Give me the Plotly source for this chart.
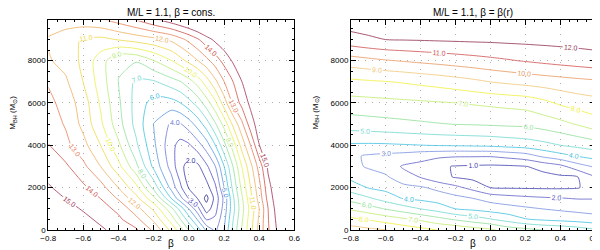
import plotly.graph_objects as go

beta_left = [-0.8, -0.7, -0.6, -0.5, -0.4, -0.3, -0.2, -0.1, -0.05, 0.0, 0.05,
             0.1, 0.15, 0.2, 0.25, 0.3, 0.35, 0.4, 0.45, 0.5, 0.6]
mass_left = [0, 500, 1000, 1500, 2000, 3000, 4000, 5000, 6000, 7000, 8000, 9000, 10000]
chi_left = [
    [16.6, 16.1, 15.63, 15.15, 14.65, 14.15, 12.8, 10.75, 9.5, 7.97, 6.5, 4.8, 3.8, 4.97, 7.2, 9.03, 10.67, 12.33, 13.86, 15.03, 17.0],
    [16.2, 15.73, 15.27, 14.78, 14.2, 13.29, 11.8, 9.54, 8.08, 6.5, 4.9, 2.9, 3.2, 4.7, 6.9, 8.8, 10.5, 12.17, 13.93, 15.19, 17.15],
    [15.8, 15.36, 14.9, 14.4, 13.75, 12.43, 10.8, 8.33, 6.67, 4.97, 3.33, 1.47, 2.63, 4.4, 6.6, 8.6, 10.33, 11.98, 13.97, 15.38, 17.3],
    [15.45, 14.97, 14.5, 13.97, 12.86, 11.33, 9.25, 5.97, 4.33, 2.9, 1.95, 0.7, 2.33, 4.25, 6.75, 8.8, 10.67, 12.4, 14.33, 15.57, 17.45],
    [15.1, 14.67, 14.19, 13.4, 11.97, 10.33, 7.67, 4.67, 3.25, 1.92, 1.5, 1.6, 2.8, 4.97, 7.2, 9.2, 10.97, 12.67, 14.6, 15.74, 17.6],
    [14.6, 14.17, 13.25, 11.97, 10.33, 8.25, 5.75, 3.6, 2.3, 1.6, 1.75, 2.8, 3.97, 5.97, 7.97, 9.97, 11.67, 13.4, 15.18, 16.09, 17.9],
    [14.03, 13.29, 12.33, 10.97, 9.2, 7.2, 5.2, 3.33, 2.64, 2.85, 3.57, 4.5, 5.97, 7.67, 9.4, 11.33, 12.97, 14.97, 15.8, 16.6, 18.2],
    [13.6, 12.89, 11.71, 10.17, 8.4, 6.67, 4.97, 3.85, 3.9, 4.5, 5.4, 6.5, 7.86, 9.33, 11.17, 12.71, 14.5, 15.52, 16.27, 17.0, 18.5],
    [13.3, 12.58, 11.5, 9.83, 8.17, 6.63, 5.6, 5.6, 5.97, 6.63, 7.4, 8.5, 9.75, 11.5, 13.13, 14.3, 15.22, 15.93, 16.65, 17.37, 18.8],
    [12.9, 12.15, 10.97, 9.5, 7.98, 6.8, 6.88, 7.54, 7.92, 8.57, 9.4, 10.5, 11.75, 12.97, 13.97, 14.97, 15.68, 16.37, 17.05, 17.73, 19.1],
    [12.1, 11.67, 10.75, 9.43, 8.1, 8.1, 8.97, 9.97, 10.63, 11.29, 11.97, 12.71, 13.5, 14.33, 15.12, 15.73, 16.34, 16.96, 17.57, 18.18, 19.4],
    [11.9, 11.4, 10.89, 10.75, 11.07, 11.4, 11.73, 12.2, 12.7, 13.25, 13.88, 14.6, 15.22, 15.72, 16.21, 16.71, 17.21, 17.71, 18.21, 18.7, 19.7],
    [12.6, 12.65, 12.75, 13.03, 13.6, 14.24, 15.05, 15.8, 16.2, 16.6, 17.0, 17.4, 17.8, 18.2, 18.6, 19.0, 19.3, 19.6, 19.9, 20.2, 20.8],
]
levels_left = [1, 15]
colors_left = ["#202080", "#3838a8", "#5050c8", "#6878d8", "#5898e0", "#40c0e0", "#70d8d0",
               "#90e0a0", "#b8ec78", "#e8f050", "#f0d848", "#f0b060", "#e88058", "#d05048", "#a03050"]

beta_right = [-0.8, -0.7, -0.6, -0.5, -0.4, -0.3, -0.2, -0.1, 0.0, 0.1, 0.2, 0.3, 0.4, 0.5, 0.6]
mass_right = [0, 500, 1000, 1500, 2000, 2500, 3000, 3500, 4000, 5000, 6000, 7000, 8000, 9000, 10000]
chi_right = [
    [9.5, 9.24, 9.03, 8.65, 8.32, 7.97, 7.81, 7.48, 7.18, 6.57, 6.31, 5.98, 5.8, 5.53, 5.12],
    [8.24, 7.91, 7.54, 7.18, 6.81, 6.35, 5.89, 5.48, 5.07, 4.6, 4.06, 3.86, 3.71, 3.56, 3.39],
    [6.86, 6.42, 5.94, 5.48, 4.99, 4.54, 3.99, 3.79, 3.56, 3.37, 3.17, 2.99, 2.84, 2.71, 2.6],
    [5.6, 5.12, 4.54, 3.93, 3.74, 3.53, 3.29, 2.99, 2.62, 2.39, 2.23, 2.11, 2.03, 1.94, 1.95],
    [4.53, 3.95, 3.68, 3.35, 3.12, 2.75, 2.25, 1.68, 0.99, 0.92, 0.9, 0.88, 0.88, 0.94, 1.42],
    [3.75, 3.42, 3.16, 2.33, 1.96, 1.3, 0.93, 0.72, 0.58, 0.51, 0.59, 0.71, 0.85, 0.98, 1.94],
    [3.28, 2.89, 2.51, 1.9, 1.69, 1.15, 0.94, 0.87, 0.83, 0.86, 0.96, 1.29, 1.71, 2.58, 3.13],
    [3.16, 2.89, 2.75, 2.61, 2.38, 2.22, 2.11, 2.1, 2.09, 2.3, 2.56, 3.21, 3.67, 4.07, 4.38],
    [3.86, 3.84, 3.86, 3.92, 3.98, 4.04, 4.08, 4.13, 4.19, 4.33, 4.46, 4.69, 4.99, 5.24, 5.5],
    [5.49, 5.59, 5.68, 5.77, 5.86, 5.95, 6.02, 6.06, 6.11, 6.17, 6.22, 6.43, 6.7, 7.08, 7.54],
    [6.62, 6.67, 6.73, 6.79, 6.85, 6.92, 6.99, 7.09, 7.19, 7.29, 7.39, 7.72, 8.15, 8.45, 8.64],
    [7.77, 7.87, 7.96, 8.08, 8.23, 8.38, 8.57, 8.77, 9.01, 9.17, 9.32, 9.46, 9.59, 9.72, 9.83],
    [9.56, 9.75, 9.93, 10.07, 10.21, 10.34, 10.48, 10.62, 10.77, 10.92, 11.07, 11.22, 11.36, 11.49, 11.62],
    [11.64, 11.85, 12.01, 12.05, 12.08, 12.12, 12.15, 12.18, 12.2, 12.24, 12.27, 12.3, 12.33, 12.36, 12.39],
    [12.6, 12.62, 12.64, 12.66, 12.68, 12.7, 12.72, 12.74, 12.76, 12.78, 12.8, 12.82, 12.84, 12.86, 12.9],
]
levels_right = [1, 12]
colors_right = ["#4040b0", "#6060c8", "#7890e0", "#40c0e0", "#70d8d0", "#90e098",
                "#c0ec70", "#f0f040", "#f0c878", "#e89860", "#d05050", "#903050"]

x_ticks = [-0.8, -0.6, -0.4, -0.2, 0.0, 0.2, 0.4, 0.6]
y_ticks = [0, 2000, 4000, 6000, 8000]
titles = ["M/L = 1.1, β = cons.", "M/L = 1.1, β = β(r)"]
x_title = "β"
y_title = "M<sub>BH</sub> (M<sub>⊙</sub>)"

# ---------------- figure ----------------
FONT = "Liberation Sans"


def colorscale(cols):
    n = len(cols)
    return [[i / (n - 1), c] for i, c in enumerate(cols)]


fig = go.Figure()
for (bx, my, z, lv, cols, xa, ya) in [
    (beta_left, mass_left, chi_left, levels_left, colors_left, "x", "y"),
    (beta_right, mass_right, chi_right, levels_right, colors_right, "x2", "y2"),
]:
    fig.add_trace(go.Contour(
        x=bx, y=my, z=z, xaxis=xa, yaxis=ya,
        colorscale=colorscale(cols),
        zmin=lv[0], zmax=lv[1], autocontour=False,
        contours=dict(coloring="lines", start=lv[0], end=lv[1], size=1, showlabels=True,
                      labelfont=dict(size=7, family=FONT), labelformat=".1f"),
        line=dict(width=0.8, smoothing=0.7),
        showscale=False, hoverinfo="skip",
    ))

axis_common = dict(
    showline=True, linecolor="black", linewidth=1, mirror="allticks",
    ticks="inside", ticklen=5, tickcolor="black", tickwidth=1,
    tickfont=dict(size=8, family=FONT, color="black"),
    showgrid=True, gridcolor="#b0b0b0", griddash="1px,6px", gridwidth=1,
    zeroline=False,
)

xdoms = [[33 / 600, 285 / 600], [343 / 600, 593 / 600]]
ydom = [(250 - 226.5) / 250, (250 - 12.7) / 250]

fig.update_layout(
    width=600, height=250, margin=dict(l=0, r=0, t=0, b=0),
    paper_bgcolor="white", plot_bgcolor="white", showlegend=False,
    xaxis=dict(domain=xdoms[0], range=[-0.8, 0.6], tickvals=x_ticks, tickformat=".1f",
               anchor="y", minor=dict(ticks="inside", ticklen=2, dtick=0.05, tick0=-0.8,
                                      tickcolor="black", showgrid=False), **axis_common),
    yaxis=dict(domain=ydom, range=[0, 9900], tickvals=y_ticks, anchor="x",
               minor=dict(ticks="inside", ticklen=2, dtick=500, tick0=0,
                          tickcolor="black", showgrid=False), **axis_common),
    xaxis2=dict(domain=xdoms[1], range=[-0.8, 0.6], tickvals=x_ticks, tickformat=".1f",
                anchor="y2", minor=dict(ticks="inside", ticklen=2, dtick=0.05, tick0=-0.8,
                                        tickcolor="black", showgrid=False), **axis_common),
    yaxis2=dict(domain=ydom, range=[0, 9900], tickvals=y_ticks, anchor="x2",
                minor=dict(ticks="inside", ticklen=2, dtick=500, tick0=0,
                           tickcolor="black", showgrid=False), **axis_common),
)

ann = []
for i, d in enumerate(xdoms):
    cx = (d[0] + d[1]) / 2
    ann.append(dict(text=titles[i], x=cx, y=ydom[1], xref="paper", yref="paper",
                    xanchor="center", yanchor="bottom", yshift=0, showarrow=False,
                    font=dict(size=10, family=FONT, color="black")))
    ann.append(dict(text=x_title, x=cx, y=0, xref="paper", yref="paper",
                    xanchor="center", yanchor="bottom", yshift=2, showarrow=False,
                    font=dict(size=10, family=FONT, color="black")))
    ann.append(dict(text=y_title, x=d[0] - 24 / 600, y=(ydom[0] + ydom[1]) / 2 + 0.05,
                    xref="paper", yref="paper", xanchor="center", yanchor="middle",
                    xshift=-12, textangle=-90, showarrow=False,
                    font=dict(size=8, family=FONT, color="black")))
fig.update_layout(annotations=ann)

fig.write_html("out.html")
